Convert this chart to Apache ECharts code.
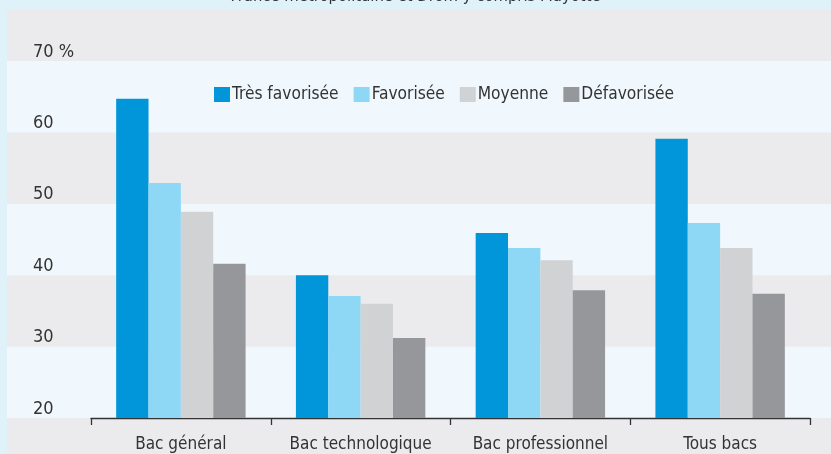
<!DOCTYPE html>
<html>
<head>
<meta charset="utf-8">
<script src="https://cdn.jsdelivr.net/npm/echarts@6/dist/echarts.min.js"></script>
<style>
  html, body { margin: 0; padding: 0; }
  body { width: 831px; height: 454px; background: #dff2fa; position: relative; overflow: hidden; }
  .panel { position: absolute; left: 7px; top: 10px; right: 0; bottom: 0; background: #ebebed; }
  #chart { position: absolute; left: 0; top: 0; width: 831px; height: 454px; }
</style>
</head>
<body>
<div class="panel"></div>
<div id="chart"></div>
<script>
// categories
const categories = ['Bac général', 'Bac technologique', 'Bac professionnel', 'Tous bacs']
// series names
const seriesNames = ['Très favorisée', 'Favorisée', 'Moyenne', 'Défavorisée']
// values (%)
const tresFavorisee = [64.7, 40.0, 45.9, 59.1]
const favorisee = [52.9, 37.1, 43.8, 47.3]
const moyenne = [48.9, 36.0, 42.1, 43.8]
const defavorisee = [41.6, 31.2, 37.9, 37.4]
// y tick labels
const yTicks = [20, 30, 40, 50, 60, 70]
const yTickLabels = ['20', '30', '40', '50', '60', '70 %']

const colors = ['#0096d9', '#8ed8f6', '#d1d2d4', '#96979a']
const font = "'Liberation Sans Narrow', 'DejaVu Sans Condensed', sans-serif"

const chart = echarts.init(document.getElementById('chart'), null, { renderer: 'canvas' })

const allValues = [tresFavorisee, favorisee, moyenne, defavorisee]

const option = {
  animation: false,
  // titre coupé en haut de l'image
  title: {
    text: 'France métropolitaine et Drom y compris Mayotte',
    left: 'center',
    top: -17,
    textStyle: { fontFamily: font, fontSize: 16.5, fontWeight: 'normal', color: '#333' }
  },
  legend: {
    left: 214,
    top: 86,
    padding: 0,
    itemWidth: 16,
    itemHeight: 15,
    itemGap: 15,
    icon: 'rect',
    textStyle: { fontFamily: font, fontSize: 17.2, color: '#333', padding: [0, 0, 0, -3] },
    data: seriesNames
  },
  grid: [
    // bandes de fond, toute la largeur
    { left: 7, right: 0, top: 61, bottom: 36 },
    // le graphique
    { left: 91, right: 21, top: 61, bottom: 36 }
  ],
  xAxis: [
    { gridIndex: 0, type: 'value', show: false },
    {
      gridIndex: 1,
      type: 'category',
      data: categories,
      axisLine: { show: true, lineStyle: { color: '#333', width: 1.3 } },
      axisTick: { show: true, length: 7, lineStyle: { color: '#333', width: 1.3 } },
      axisLabel: { interval: 0, fontFamily: font, fontSize: 17, color: '#333', margin: 18 }
    }
  ],
  yAxis: [
    {
      gridIndex: 0,
      type: 'value',
      min: yTicks[0],
      max: yTicks[yTicks.length - 1],
      interval: 10,
      axisLine: { show: false },
      axisTick: { show: false },
      axisLabel: { show: false },
      splitLine: { show: false },
      splitArea: { show: true, areaStyle: { color: ['#f0f8fe', '#ebebed'] } }
    },
    {
      gridIndex: 1,
      type: 'value',
      min: yTicks[0],
      max: yTicks[yTicks.length - 1],
      interval: 10,
      axisLine: { show: false },
      axisTick: { show: false },
      splitLine: { show: false },
      axisLabel: {
        fontFamily: font,
        fontSize: 18,
        color: '#333',
        align: 'left',
        verticalAlign: 'bottom',
        margin: 58,
        formatter: (v) => yTickLabels[yTicks.indexOf(v)]
      }
    }
  ],
  series: seriesNames.map((name, i) => ({
    name: name,
    type: 'bar',
    xAxisIndex: 1,
    yAxisIndex: 1,
    barGap: 0,
    barCategoryGap: '28%',
    itemStyle: { color: colors[i] },
    data: allValues[i]
  }))
}

chart.setOption(option)
</script>
</body>
</html>
